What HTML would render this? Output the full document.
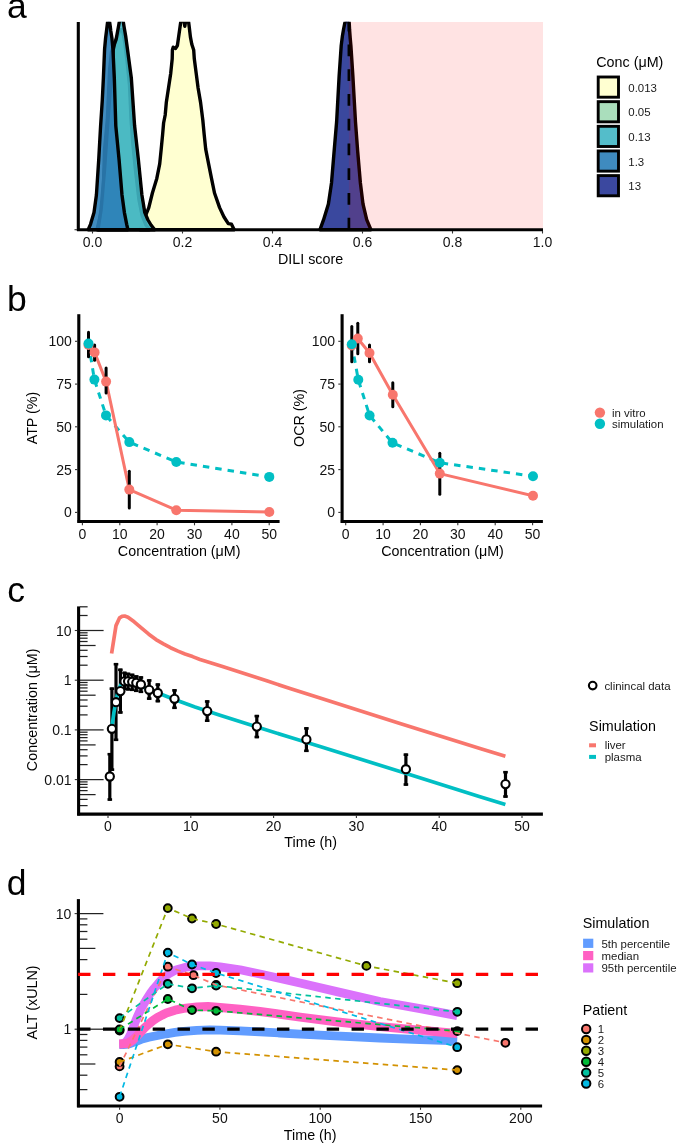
<!DOCTYPE html>
<html><head><meta charset="utf-8"><style>
html,body{margin:0;padding:0;background:#fff;}
svg{display:block;font-family:"Liberation Sans", sans-serif;}
</style></head><body>
<svg width="685" height="1144" viewBox="0 0 685 1144">
<rect width="685" height="1144" fill="#fff"/>
<g opacity="0.999">
<text x="7.0" y="18.3" font-size="35.5" fill="#000" text-anchor="start" >a</text>
<text x="7.0" y="311.4" font-size="35.5" fill="#000" text-anchor="start" >b</text>
<text x="7.3" y="602.3" font-size="35.5" fill="#000" text-anchor="start" >c</text>
<text x="6.8" y="894.8" font-size="35.5" fill="#000" text-anchor="start" >d</text>
<defs><clipPath id="cpa"><rect x="70" y="21.8" width="480" height="212"/></clipPath></defs>
<g clip-path="url(#cpa)">
<polygon points="140.0,229.7 145.8,215.0 148.8,207.6 152.4,193.0 156.8,178.4 159.7,163.8 161.2,149.2 162.6,134.6 163.6,123.0 165.2,115.0 166.3,102.6 168.5,88.0 170.7,73.4 172.2,58.8 172.4,50.0 173.2,47.2 175.6,48.4 177.4,45.5 178.6,37.0 179.6,30.0 180.6,23.0 181.5,17.0 182.4,13.0 183.3,17.0 184.1,22.0 184.8,26.3 185.5,22.0 186.3,16.0 187.1,13.0 187.9,17.0 188.6,22.0 189.3,27.5 190.4,36.9 191.8,44.2 193.7,50.0 194.3,58.8 196.2,73.4 198.1,88.0 200.6,102.6 202.8,120.0 204.2,134.6 205.7,149.2 208.6,163.8 211.5,178.4 214.5,193.0 219.6,207.6 224.0,217.0 228.3,223.6 231.5,224.2 234.2,229.7" fill="#FFFFCC" fill-opacity="0.9" stroke="#000" stroke-width="3.4" stroke-linejoin="round"/>
<polygon points="97.0,229.7 100.5,215.0 103.0,200.0 104.5,150.0 107.3,120.0 109.6,70.0 111.5,52.0 114.5,44.0 117.5,36.0 119.5,31.0 121.0,29.5 122.5,31.0 123.5,35.0 125.0,44.0 127.0,60.0 129.5,85.0 131.1,120.0 133.0,145.0 135.5,170.0 139.0,200.0 142.0,215.0 146.0,225.0 149.5,229.7" fill="#A1DAB4" fill-opacity="0.9" stroke="#000" stroke-width="3.4" stroke-linejoin="round"/>
<polygon points="98.0,229.7 101.0,210.0 104.5,170.0 108.0,120.0 111.0,80.0 113.2,50.0 114.5,44.0 116.1,39.4 117.3,33.0 118.4,27.0 119.3,22.0 120.3,18.0 121.3,15.5 122.4,18.0 123.3,22.0 124.1,27.0 124.8,31.0 125.8,36.9 127.4,48.8 131.3,77.7 134.6,125.8 138.4,160.0 141.9,195.0 144.8,212.6 148.0,220.0 151.0,225.0 154.8,229.7" fill="#41B6C4" fill-opacity="0.9" stroke="#000" stroke-width="3.4" stroke-linejoin="round"/>
<polygon points="88.2,229.7 90.5,224.3 94.0,212.6 96.4,195.0 98.7,160.0 100.6,125.8 102.3,100.0 103.4,77.7 104.6,48.8 105.6,38.0 106.5,31.0 107.1,26.0 107.6,22.0 108.2,18.0 108.6,15.5 109.2,18.0 109.6,22.0 110.2,26.0 110.8,31.0 111.9,38.0 112.9,48.8 114.3,77.7 115.8,125.8 119.1,160.0 122.0,195.0 124.4,212.6 126.7,224.3 127.9,229.7" fill="#2C7FB8" fill-opacity="0.9" stroke="#000" stroke-width="3.4" stroke-linejoin="round"/>
<polygon points="320.0,229.7 323.6,219.7 328.4,204.0 331.5,183.0 334.1,151.5 336.6,122.0 339.1,76.3 341.2,45.6 342.4,36.0 343.6,29.0 344.6,24.0 345.4,21.0 346.6,17.0 347.6,17.0 348.8,20.0 349.3,24.0 349.6,30.0 350.2,38.0 350.9,45.6 352.9,76.3 355.5,122.0 357.7,151.5 360.4,183.0 363.0,204.0 366.7,219.7 370.9,229.7" fill="#253494" fill-opacity="0.9" stroke="#000" stroke-width="3.4" stroke-linejoin="round"/>
</g>
<rect x="348.9" y="22.0" width="194.1" height="207.7" fill="#FF0000" fill-opacity="0.115"/>
<line x1="348.9" y1="229.4" x2="348.9" y2="22.0" stroke="#000" stroke-width="2.7" stroke-dasharray="11.7 13.05"/>
<line x1="78.3" y1="22.0" x2="78.3" y2="231.0" stroke="#000" stroke-width="3.1" />
<line x1="77.0" y1="229.7" x2="543.0" y2="229.7" stroke="#000" stroke-width="3.1" />
<line x1="92.5" y1="231.0" x2="92.5" y2="233.5" stroke="#333" stroke-width="1.1" />
<text x="92.5" y="246.6" font-size="14.0" fill="#111" text-anchor="middle" >0.0</text>
<line x1="182.5" y1="231.0" x2="182.5" y2="233.5" stroke="#333" stroke-width="1.1" />
<text x="182.5" y="246.6" font-size="14.0" fill="#111" text-anchor="middle" >0.2</text>
<line x1="272.5" y1="231.0" x2="272.5" y2="233.5" stroke="#333" stroke-width="1.1" />
<text x="272.5" y="246.6" font-size="14.0" fill="#111" text-anchor="middle" >0.4</text>
<line x1="362.5" y1="231.0" x2="362.5" y2="233.5" stroke="#333" stroke-width="1.1" />
<text x="362.5" y="246.6" font-size="14.0" fill="#111" text-anchor="middle" >0.6</text>
<line x1="452.5" y1="231.0" x2="452.5" y2="233.5" stroke="#333" stroke-width="1.1" />
<text x="452.5" y="246.6" font-size="14.0" fill="#111" text-anchor="middle" >0.8</text>
<line x1="542.5" y1="231.0" x2="542.5" y2="233.5" stroke="#333" stroke-width="1.1" />
<text x="542.5" y="246.6" font-size="14.0" fill="#111" text-anchor="middle" >1.0</text>
<line x1="77.0" y1="229.7" x2="74.5" y2="229.7" stroke="#333" stroke-width="1.1" />
<text x="310.6" y="264.2" font-size="14.3" fill="#000" text-anchor="middle" >DILI score</text>
<text x="596.3" y="67.3" font-size="14.3" fill="#000" text-anchor="start" >Conc (μM)</text>
<rect x="598.2" y="77.00" width="20.3" height="20.2" fill="#FFFFD1" stroke="#000" stroke-width="2.9"/>
<text x="628.3" y="91.5" font-size="11.44" fill="#1a1a1a" text-anchor="start" >0.013</text>
<rect x="598.2" y="101.65" width="20.3" height="20.2" fill="#AADEBC" stroke="#000" stroke-width="2.9"/>
<text x="628.3" y="116.2" font-size="11.44" fill="#1a1a1a" text-anchor="start" >0.05</text>
<rect x="598.2" y="126.30" width="20.3" height="20.2" fill="#54BDCA" stroke="#000" stroke-width="2.9"/>
<text x="628.3" y="140.8" font-size="11.44" fill="#1a1a1a" text-anchor="start" >0.13</text>
<rect x="598.2" y="150.95" width="20.3" height="20.2" fill="#3F8BBF" stroke="#000" stroke-width="2.9"/>
<text x="628.3" y="165.5" font-size="11.44" fill="#1a1a1a" text-anchor="start" >1.3</text>
<rect x="598.2" y="175.60" width="20.3" height="20.2" fill="#3B489F" stroke="#000" stroke-width="2.9"/>
<text x="628.3" y="190.1" font-size="11.44" fill="#1a1a1a" text-anchor="start" >13</text>
<line x1="78.8" y1="314.2" x2="78.8" y2="522.9" stroke="#000" stroke-width="3.1" />
<line x1="77.5" y1="521.5" x2="279.6" y2="521.5" stroke="#000" stroke-width="3.1" />
<line x1="77.5" y1="512.4" x2="75.0" y2="512.4" stroke="#333" stroke-width="1.1" />
<text x="71.8" y="517.4" font-size="14.0" fill="#111" text-anchor="end" >0</text>
<line x1="77.5" y1="469.6" x2="75.0" y2="469.6" stroke="#333" stroke-width="1.1" />
<text x="71.8" y="474.6" font-size="14.0" fill="#111" text-anchor="end" >25</text>
<line x1="77.5" y1="426.8" x2="75.0" y2="426.8" stroke="#333" stroke-width="1.1" />
<text x="71.8" y="431.8" font-size="14.0" fill="#111" text-anchor="end" >50</text>
<line x1="77.5" y1="384.1" x2="75.0" y2="384.1" stroke="#333" stroke-width="1.1" />
<text x="71.8" y="389.1" font-size="14.0" fill="#111" text-anchor="end" >75</text>
<line x1="77.5" y1="341.3" x2="75.0" y2="341.3" stroke="#333" stroke-width="1.1" />
<text x="71.8" y="346.3" font-size="14.0" fill="#111" text-anchor="end" >100</text>
<line x1="82.4" y1="522.8" x2="82.4" y2="525.3" stroke="#333" stroke-width="1.1" />
<text x="82.4" y="538.5" font-size="14.0" fill="#111" text-anchor="middle" >0</text>
<line x1="119.8" y1="522.8" x2="119.8" y2="525.3" stroke="#333" stroke-width="1.1" />
<text x="119.8" y="538.5" font-size="14.0" fill="#111" text-anchor="middle" >10</text>
<line x1="157.1" y1="522.8" x2="157.1" y2="525.3" stroke="#333" stroke-width="1.1" />
<text x="157.1" y="538.5" font-size="14.0" fill="#111" text-anchor="middle" >20</text>
<line x1="194.5" y1="522.8" x2="194.5" y2="525.3" stroke="#333" stroke-width="1.1" />
<text x="194.5" y="538.5" font-size="14.0" fill="#111" text-anchor="middle" >30</text>
<line x1="231.9" y1="522.8" x2="231.9" y2="525.3" stroke="#333" stroke-width="1.1" />
<text x="231.9" y="538.5" font-size="14.0" fill="#111" text-anchor="middle" >40</text>
<line x1="269.2" y1="522.8" x2="269.2" y2="525.3" stroke="#333" stroke-width="1.1" />
<text x="269.2" y="538.5" font-size="14.0" fill="#111" text-anchor="middle" >50</text>
<text x="179.2" y="556.2" font-size="14.3" fill="#000" text-anchor="middle" >Concentration (μM)</text>
<text x="0.0" y="0.0" font-size="14.3" fill="#000" text-anchor="middle" transform="translate(36.7,418) rotate(-90)">ATP (%)</text>
<line x1="342.1" y1="314.2" x2="342.1" y2="522.9" stroke="#000" stroke-width="3.1" />
<line x1="340.8" y1="521.5" x2="542.9" y2="521.5" stroke="#000" stroke-width="3.1" />
<line x1="340.8" y1="512.4" x2="338.3" y2="512.4" stroke="#333" stroke-width="1.1" />
<text x="335.1" y="517.4" font-size="14.0" fill="#111" text-anchor="end" >0</text>
<line x1="340.8" y1="469.6" x2="338.3" y2="469.6" stroke="#333" stroke-width="1.1" />
<text x="335.1" y="474.6" font-size="14.0" fill="#111" text-anchor="end" >25</text>
<line x1="340.8" y1="426.8" x2="338.3" y2="426.8" stroke="#333" stroke-width="1.1" />
<text x="335.1" y="431.8" font-size="14.0" fill="#111" text-anchor="end" >50</text>
<line x1="340.8" y1="384.1" x2="338.3" y2="384.1" stroke="#333" stroke-width="1.1" />
<text x="335.1" y="389.1" font-size="14.0" fill="#111" text-anchor="end" >75</text>
<line x1="340.8" y1="341.3" x2="338.3" y2="341.3" stroke="#333" stroke-width="1.1" />
<text x="335.1" y="346.3" font-size="14.0" fill="#111" text-anchor="end" >100</text>
<line x1="345.7" y1="522.8" x2="345.7" y2="525.3" stroke="#333" stroke-width="1.1" />
<text x="345.7" y="538.5" font-size="14.0" fill="#111" text-anchor="middle" >0</text>
<line x1="383.1" y1="522.8" x2="383.1" y2="525.3" stroke="#333" stroke-width="1.1" />
<text x="383.1" y="538.5" font-size="14.0" fill="#111" text-anchor="middle" >10</text>
<line x1="420.4" y1="522.8" x2="420.4" y2="525.3" stroke="#333" stroke-width="1.1" />
<text x="420.4" y="538.5" font-size="14.0" fill="#111" text-anchor="middle" >20</text>
<line x1="457.8" y1="522.8" x2="457.8" y2="525.3" stroke="#333" stroke-width="1.1" />
<text x="457.8" y="538.5" font-size="14.0" fill="#111" text-anchor="middle" >30</text>
<line x1="495.2" y1="522.8" x2="495.2" y2="525.3" stroke="#333" stroke-width="1.1" />
<text x="495.2" y="538.5" font-size="14.0" fill="#111" text-anchor="middle" >40</text>
<line x1="532.6" y1="522.8" x2="532.6" y2="525.3" stroke="#333" stroke-width="1.1" />
<text x="532.6" y="538.5" font-size="14.0" fill="#111" text-anchor="middle" >50</text>
<text x="442.5" y="556.2" font-size="14.3" fill="#000" text-anchor="middle" >Concentration (μM)</text>
<text x="0.0" y="0.0" font-size="14.3" fill="#000" text-anchor="middle" transform="translate(303.8,418) rotate(-90)">OCR (%)</text>
<polyline points="88.5,343.6 94.4,379.6 106.0,415.4 129.3,442.1 176.3,462.0 269.3,476.9" fill="none" stroke="#00BFC4" stroke-width="3" stroke-dasharray="6.5 6"/>
<polyline points="88.5,345.0 94.6,352.4 106.1,381.6 129.3,489.6 176.3,510.2 269.3,512.0" fill="none" stroke="#F8766D" stroke-width="3" stroke-linejoin="round"/>
<line x1="88.5" y1="332.3" x2="88.5" y2="356.8" stroke="#000" stroke-width="3" stroke-linecap="round"/>
<line x1="94.6" y1="345.0" x2="94.6" y2="360.3" stroke="#000" stroke-width="3" stroke-linecap="round"/>
<line x1="106.1" y1="368.0" x2="106.1" y2="393.0" stroke="#000" stroke-width="3" stroke-linecap="round"/>
<line x1="129.3" y1="471.2" x2="129.3" y2="508.0" stroke="#000" stroke-width="3" stroke-linecap="round"/>
<circle cx="88.5" cy="345" r="5" fill="#F8766D"/>
<circle cx="94.6" cy="352.4" r="5" fill="#F8766D"/>
<circle cx="106.1" cy="381.6" r="5" fill="#F8766D"/>
<circle cx="129.3" cy="489.6" r="5" fill="#F8766D"/>
<circle cx="176.3" cy="510.2" r="5" fill="#F8766D"/>
<circle cx="269.3" cy="512" r="5" fill="#F8766D"/>
<circle cx="88.5" cy="343.6" r="5" fill="#00BFC4"/>
<circle cx="94.4" cy="379.6" r="5" fill="#00BFC4"/>
<circle cx="106.0" cy="415.4" r="5" fill="#00BFC4"/>
<circle cx="129.3" cy="442.1" r="5" fill="#00BFC4"/>
<circle cx="176.3" cy="462" r="5" fill="#00BFC4"/>
<circle cx="269.3" cy="476.9" r="5" fill="#00BFC4"/>
<polyline points="351.8,344.2 358.3,379.8 369.6,415.5 392.5,442.8 439.8,462.7 533.0,476.2" fill="none" stroke="#00BFC4" stroke-width="3" stroke-dasharray="6.5 6"/>
<polyline points="351.8,345.5 357.8,338.5 369.5,353.0 392.8,394.7 439.8,473.6 533.0,495.7" fill="none" stroke="#F8766D" stroke-width="3" stroke-linejoin="round"/>
<line x1="351.8" y1="326.5" x2="351.8" y2="361.8" stroke="#000" stroke-width="3" stroke-linecap="round"/>
<line x1="357.8" y1="323.3" x2="357.8" y2="353.8" stroke="#000" stroke-width="3" stroke-linecap="round"/>
<line x1="369.5" y1="345.0" x2="369.5" y2="361.8" stroke="#000" stroke-width="3" stroke-linecap="round"/>
<line x1="392.8" y1="382.7" x2="392.8" y2="406.8" stroke="#000" stroke-width="3" stroke-linecap="round"/>
<line x1="439.8" y1="453.3" x2="439.8" y2="494.3" stroke="#000" stroke-width="3" stroke-linecap="round"/>
<circle cx="351.8" cy="345.5" r="5" fill="#F8766D"/>
<circle cx="357.8" cy="338.5" r="5" fill="#F8766D"/>
<circle cx="369.5" cy="353" r="5" fill="#F8766D"/>
<circle cx="392.8" cy="394.7" r="5" fill="#F8766D"/>
<circle cx="439.8" cy="473.6" r="5" fill="#F8766D"/>
<circle cx="533" cy="495.7" r="5" fill="#F8766D"/>
<circle cx="351.8" cy="344.2" r="5" fill="#00BFC4"/>
<circle cx="358.3" cy="379.8" r="5" fill="#00BFC4"/>
<circle cx="369.6" cy="415.5" r="5" fill="#00BFC4"/>
<circle cx="392.5" cy="442.8" r="5" fill="#00BFC4"/>
<circle cx="439.8" cy="462.7" r="5" fill="#00BFC4"/>
<circle cx="533" cy="476.2" r="5" fill="#00BFC4"/>
<circle cx="599.9" cy="412.6" r="5.2" fill="#F8766D"/>
<circle cx="599.9" cy="423.8" r="5.2" fill="#00BFC4"/>
<text x="612.0" y="416.6" font-size="11.44" fill="#1a1a1a" text-anchor="start" >in vitro</text>
<text x="612.0" y="427.8" font-size="11.44" fill="#1a1a1a" text-anchor="start" >simulation</text>
<line x1="79.9" y1="805.6" x2="87.6" y2="805.6" stroke="#222" stroke-width="1.25" />
<line x1="79.9" y1="799.4" x2="87.6" y2="799.4" stroke="#222" stroke-width="1.25" />
<line x1="79.9" y1="794.6" x2="95.6" y2="794.6" stroke="#222" stroke-width="1.25" />
<line x1="79.9" y1="790.6" x2="87.6" y2="790.6" stroke="#222" stroke-width="1.25" />
<line x1="79.9" y1="787.3" x2="87.6" y2="787.3" stroke="#222" stroke-width="1.25" />
<line x1="79.9" y1="784.4" x2="87.6" y2="784.4" stroke="#222" stroke-width="1.25" />
<line x1="79.9" y1="781.9" x2="87.6" y2="781.9" stroke="#222" stroke-width="1.25" />
<line x1="79.9" y1="779.6" x2="103.6" y2="779.6" stroke="#222" stroke-width="1.25" />
<line x1="79.9" y1="764.6" x2="87.6" y2="764.6" stroke="#222" stroke-width="1.25" />
<line x1="79.9" y1="755.9" x2="87.6" y2="755.9" stroke="#222" stroke-width="1.25" />
<line x1="79.9" y1="749.7" x2="87.6" y2="749.7" stroke="#222" stroke-width="1.25" />
<line x1="79.9" y1="744.9" x2="95.6" y2="744.9" stroke="#222" stroke-width="1.25" />
<line x1="79.9" y1="740.9" x2="87.6" y2="740.9" stroke="#222" stroke-width="1.25" />
<line x1="79.9" y1="737.6" x2="87.6" y2="737.6" stroke="#222" stroke-width="1.25" />
<line x1="79.9" y1="734.7" x2="87.6" y2="734.7" stroke="#222" stroke-width="1.25" />
<line x1="79.9" y1="732.2" x2="87.6" y2="732.2" stroke="#222" stroke-width="1.25" />
<line x1="79.9" y1="729.9" x2="103.6" y2="729.9" stroke="#222" stroke-width="1.25" />
<line x1="79.9" y1="714.9" x2="87.6" y2="714.9" stroke="#222" stroke-width="1.25" />
<line x1="79.9" y1="706.2" x2="87.6" y2="706.2" stroke="#222" stroke-width="1.25" />
<line x1="79.9" y1="700.0" x2="87.6" y2="700.0" stroke="#222" stroke-width="1.25" />
<line x1="79.9" y1="695.2" x2="95.6" y2="695.2" stroke="#222" stroke-width="1.25" />
<line x1="79.9" y1="691.2" x2="87.6" y2="691.2" stroke="#222" stroke-width="1.25" />
<line x1="79.9" y1="687.9" x2="87.6" y2="687.9" stroke="#222" stroke-width="1.25" />
<line x1="79.9" y1="685.0" x2="87.6" y2="685.0" stroke="#222" stroke-width="1.25" />
<line x1="79.9" y1="682.5" x2="87.6" y2="682.5" stroke="#222" stroke-width="1.25" />
<line x1="79.9" y1="680.2" x2="103.6" y2="680.2" stroke="#222" stroke-width="1.25" />
<line x1="79.9" y1="665.2" x2="87.6" y2="665.2" stroke="#222" stroke-width="1.25" />
<line x1="79.9" y1="656.5" x2="87.6" y2="656.5" stroke="#222" stroke-width="1.25" />
<line x1="79.9" y1="650.3" x2="87.6" y2="650.3" stroke="#222" stroke-width="1.25" />
<line x1="79.9" y1="645.5" x2="95.6" y2="645.5" stroke="#222" stroke-width="1.25" />
<line x1="79.9" y1="641.5" x2="87.6" y2="641.5" stroke="#222" stroke-width="1.25" />
<line x1="79.9" y1="638.2" x2="87.6" y2="638.2" stroke="#222" stroke-width="1.25" />
<line x1="79.9" y1="635.3" x2="87.6" y2="635.3" stroke="#222" stroke-width="1.25" />
<line x1="79.9" y1="632.8" x2="87.6" y2="632.8" stroke="#222" stroke-width="1.25" />
<line x1="79.9" y1="630.5" x2="103.6" y2="630.5" stroke="#222" stroke-width="1.25" />
<line x1="79.9" y1="615.5" x2="87.6" y2="615.5" stroke="#222" stroke-width="1.25" />
<line x1="79.9" y1="606.8" x2="87.6" y2="606.8" stroke="#222" stroke-width="1.25" />
<line x1="78.6" y1="606.4" x2="78.6" y2="815.5" stroke="#000" stroke-width="3.1" />
<line x1="77.2" y1="814.1" x2="542.9" y2="814.1" stroke="#000" stroke-width="3.1" />
<line x1="77.3" y1="630.5" x2="74.8" y2="630.5" stroke="#333" stroke-width="1.1" />
<text x="71.6" y="635.5" font-size="14.0" fill="#111" text-anchor="end" >10</text>
<line x1="77.3" y1="680.2" x2="74.8" y2="680.2" stroke="#333" stroke-width="1.1" />
<text x="71.6" y="685.2" font-size="14.0" fill="#111" text-anchor="end" >1</text>
<line x1="77.3" y1="729.9" x2="74.8" y2="729.9" stroke="#333" stroke-width="1.1" />
<text x="71.6" y="734.9" font-size="14.0" fill="#111" text-anchor="end" >0.1</text>
<line x1="77.3" y1="779.6" x2="74.8" y2="779.6" stroke="#333" stroke-width="1.1" />
<text x="71.6" y="784.6" font-size="14.0" fill="#111" text-anchor="end" >0.01</text>
<line x1="108.0" y1="815.4" x2="108.0" y2="817.9" stroke="#333" stroke-width="1.1" />
<text x="108.0" y="830.6" font-size="14.0" fill="#111" text-anchor="middle" >0</text>
<line x1="190.8" y1="815.4" x2="190.8" y2="817.9" stroke="#333" stroke-width="1.1" />
<text x="190.8" y="830.6" font-size="14.0" fill="#111" text-anchor="middle" >10</text>
<line x1="273.6" y1="815.4" x2="273.6" y2="817.9" stroke="#333" stroke-width="1.1" />
<text x="273.6" y="830.6" font-size="14.0" fill="#111" text-anchor="middle" >20</text>
<line x1="356.4" y1="815.4" x2="356.4" y2="817.9" stroke="#333" stroke-width="1.1" />
<text x="356.4" y="830.6" font-size="14.0" fill="#111" text-anchor="middle" >30</text>
<line x1="439.2" y1="815.4" x2="439.2" y2="817.9" stroke="#333" stroke-width="1.1" />
<text x="439.2" y="830.6" font-size="14.0" fill="#111" text-anchor="middle" >40</text>
<line x1="522.0" y1="815.4" x2="522.0" y2="817.9" stroke="#333" stroke-width="1.1" />
<text x="522.0" y="830.6" font-size="14.0" fill="#111" text-anchor="middle" >50</text>
<text x="310.7" y="847.4" font-size="14.3" fill="#000" text-anchor="middle" >Time (h)</text>
<text x="0.0" y="0.0" font-size="14.3" fill="#000" text-anchor="middle" transform="translate(37.1,709.8) rotate(-90)">Concentration (μM)</text>
<line x1="109.8" y1="753.0" x2="109.8" y2="800.7" stroke="#000" stroke-width="3.2" />
<line x1="107.5" y1="754.2" x2="112.1" y2="754.2" stroke="#000" stroke-width="2.6" />
<line x1="107.5" y1="799.5" x2="112.1" y2="799.5" stroke="#000" stroke-width="2.6" />
<line x1="111.9" y1="687.5" x2="111.9" y2="770.8" stroke="#000" stroke-width="3.2" />
<line x1="109.6" y1="688.7" x2="114.2" y2="688.7" stroke="#000" stroke-width="2.6" />
<line x1="109.6" y1="769.6" x2="114.2" y2="769.6" stroke="#000" stroke-width="2.6" />
<line x1="116.0" y1="663.0" x2="116.0" y2="741.0" stroke="#000" stroke-width="3.2" />
<line x1="113.7" y1="664.2" x2="118.3" y2="664.2" stroke="#000" stroke-width="2.6" />
<line x1="113.7" y1="739.8" x2="118.3" y2="739.8" stroke="#000" stroke-width="2.6" />
<line x1="120.4" y1="668.6" x2="120.4" y2="713.6" stroke="#000" stroke-width="3.2" />
<line x1="118.1" y1="669.8" x2="122.7" y2="669.8" stroke="#000" stroke-width="2.6" />
<line x1="118.1" y1="712.4" x2="122.7" y2="712.4" stroke="#000" stroke-width="2.6" />
<line x1="124.5" y1="671.7" x2="124.5" y2="690.0" stroke="#000" stroke-width="3.2" />
<line x1="122.2" y1="672.9" x2="126.8" y2="672.9" stroke="#000" stroke-width="2.6" />
<line x1="122.2" y1="688.8" x2="126.8" y2="688.8" stroke="#000" stroke-width="2.6" />
<line x1="128.1" y1="672.7" x2="128.1" y2="690.5" stroke="#000" stroke-width="3.2" />
<line x1="125.8" y1="673.9" x2="130.4" y2="673.9" stroke="#000" stroke-width="2.6" />
<line x1="125.8" y1="689.3" x2="130.4" y2="689.3" stroke="#000" stroke-width="2.6" />
<line x1="132.2" y1="673.7" x2="132.2" y2="691.0" stroke="#000" stroke-width="3.2" />
<line x1="129.9" y1="674.9" x2="134.5" y2="674.9" stroke="#000" stroke-width="2.6" />
<line x1="129.9" y1="689.8" x2="134.5" y2="689.8" stroke="#000" stroke-width="2.6" />
<line x1="136.3" y1="675.3" x2="136.3" y2="692.0" stroke="#000" stroke-width="3.2" />
<line x1="134.0" y1="676.5" x2="138.6" y2="676.5" stroke="#000" stroke-width="2.6" />
<line x1="134.0" y1="690.8" x2="138.6" y2="690.8" stroke="#000" stroke-width="2.6" />
<line x1="140.9" y1="676.3" x2="140.9" y2="693.0" stroke="#000" stroke-width="3.2" />
<line x1="138.6" y1="677.5" x2="143.2" y2="677.5" stroke="#000" stroke-width="2.6" />
<line x1="138.6" y1="691.8" x2="143.2" y2="691.8" stroke="#000" stroke-width="2.6" />
<line x1="149.2" y1="679.3" x2="149.2" y2="699.8" stroke="#000" stroke-width="3.2" />
<line x1="146.9" y1="680.5" x2="151.5" y2="680.5" stroke="#000" stroke-width="2.6" />
<line x1="146.9" y1="698.6" x2="151.5" y2="698.6" stroke="#000" stroke-width="2.6" />
<line x1="157.8" y1="683.4" x2="157.8" y2="702.3" stroke="#000" stroke-width="3.2" />
<line x1="155.5" y1="684.6" x2="160.1" y2="684.6" stroke="#000" stroke-width="2.6" />
<line x1="155.5" y1="701.1" x2="160.1" y2="701.1" stroke="#000" stroke-width="2.6" />
<line x1="174.5" y1="689.2" x2="174.5" y2="709.0" stroke="#000" stroke-width="3.2" />
<line x1="172.2" y1="690.4" x2="176.8" y2="690.4" stroke="#000" stroke-width="2.6" />
<line x1="172.2" y1="707.8" x2="176.8" y2="707.8" stroke="#000" stroke-width="2.6" />
<line x1="207.2" y1="700.3" x2="207.2" y2="721.9" stroke="#000" stroke-width="3.2" />
<line x1="204.9" y1="701.5" x2="209.5" y2="701.5" stroke="#000" stroke-width="2.6" />
<line x1="204.9" y1="720.7" x2="209.5" y2="720.7" stroke="#000" stroke-width="2.6" />
<line x1="256.8" y1="714.9" x2="256.8" y2="738.2" stroke="#000" stroke-width="3.2" />
<line x1="254.5" y1="716.1" x2="259.1" y2="716.1" stroke="#000" stroke-width="2.6" />
<line x1="254.5" y1="737.0" x2="259.1" y2="737.0" stroke="#000" stroke-width="2.6" />
<line x1="306.4" y1="727.2" x2="306.4" y2="752.0" stroke="#000" stroke-width="3.2" />
<line x1="304.1" y1="728.4" x2="308.7" y2="728.4" stroke="#000" stroke-width="2.6" />
<line x1="304.1" y1="750.8" x2="308.7" y2="750.8" stroke="#000" stroke-width="2.6" />
<line x1="405.9" y1="753.5" x2="405.9" y2="785.7" stroke="#000" stroke-width="3.2" />
<line x1="403.6" y1="754.7" x2="408.2" y2="754.7" stroke="#000" stroke-width="2.6" />
<line x1="403.6" y1="784.5" x2="408.2" y2="784.5" stroke="#000" stroke-width="2.6" />
<line x1="505.5" y1="771.0" x2="505.5" y2="797.7" stroke="#000" stroke-width="3.2" />
<line x1="503.2" y1="772.2" x2="507.8" y2="772.2" stroke="#000" stroke-width="2.6" />
<line x1="503.2" y1="796.5" x2="507.8" y2="796.5" stroke="#000" stroke-width="2.6" />
<polyline points="111.6,653.5 116.0,625.6 119.6,617.8 122.0,616.4 124.7,616.0 128.0,617.2 134.2,621.8 141.0,627.6 148.8,634.2 156.0,639.6 163.4,643.9 170.5,647.7 178.0,651.1 185.0,654.0 192.6,656.6 200.0,659.5 222.5,666.6 245.0,673.8 267.5,681.0 290.0,688.6 320.0,698.1 400.0,723.4 480.0,748.6 505.4,756.3" fill="none" stroke="#F8766D" stroke-width="3.7" stroke-linejoin="round"/>
<polyline points="111.9,726.5 112.9,720.0 114.0,712.0 115.5,704.0 117.0,696.0 118.8,689.0 121.0,684.6 124.0,682.6 127.0,682.2 131.0,682.7 136.0,684.3 141.0,686.2 150.0,689.6 160.0,693.8 170.0,697.8 180.0,701.6 195.0,707.0 220.0,715.2 250.0,724.8 290.0,737.3 320.0,746.5 400.0,771.6 480.0,796.8 505.4,804.6" fill="none" stroke="#00BFC4" stroke-width="3.7" stroke-linejoin="round"/>
<circle cx="109.8" cy="776.5" r="4.1" fill="#fff" stroke="#000" stroke-width="2.1"/>
<circle cx="111.9" cy="728.8" r="4.1" fill="#fff" stroke="#000" stroke-width="2.1"/>
<circle cx="116.0" cy="702.2" r="4.1" fill="#fff" stroke="#000" stroke-width="2.1"/>
<circle cx="120.4" cy="691.1" r="4.1" fill="#fff" stroke="#000" stroke-width="2.1"/>
<circle cx="124.5" cy="681.4" r="4.1" fill="#fff" stroke="#000" stroke-width="2.1"/>
<circle cx="128.1" cy="681.3" r="4.1" fill="#fff" stroke="#000" stroke-width="2.1"/>
<circle cx="132.2" cy="681.8" r="4.1" fill="#fff" stroke="#000" stroke-width="2.1"/>
<circle cx="136.3" cy="682.8" r="4.1" fill="#fff" stroke="#000" stroke-width="2.1"/>
<circle cx="140.9" cy="684.5" r="4.1" fill="#fff" stroke="#000" stroke-width="2.1"/>
<circle cx="149.2" cy="689.8" r="4.1" fill="#fff" stroke="#000" stroke-width="2.1"/>
<circle cx="157.8" cy="693.0" r="4.1" fill="#fff" stroke="#000" stroke-width="2.1"/>
<circle cx="174.5" cy="698.8" r="4.1" fill="#fff" stroke="#000" stroke-width="2.1"/>
<circle cx="207.2" cy="711.1" r="4.1" fill="#fff" stroke="#000" stroke-width="2.1"/>
<circle cx="256.8" cy="726.6" r="4.1" fill="#fff" stroke="#000" stroke-width="2.1"/>
<circle cx="306.4" cy="739.4" r="4.1" fill="#fff" stroke="#000" stroke-width="2.1"/>
<circle cx="405.9" cy="769.2" r="4.1" fill="#fff" stroke="#000" stroke-width="2.1"/>
<circle cx="505.5" cy="784.1" r="4.1" fill="#fff" stroke="#000" stroke-width="2.1"/>
<circle cx="592.7" cy="685.6" r="3.8" fill="#fff" stroke="#000" stroke-width="2.1"/>
<text x="604.4" y="689.6" font-size="11.44" fill="#1a1a1a" text-anchor="start" >clinincal data</text>
<text x="589.1" y="730.8" font-size="14.3" fill="#000" text-anchor="start" >Simulation</text>
<rect x="589.1" y="743.3" width="6.9" height="4" fill="#F8766D"/>
<rect x="589.1" y="754.9" width="6.9" height="4" fill="#00BFC4"/>
<text x="604.7" y="749.3" font-size="11.44" fill="#1a1a1a" text-anchor="start" >liver</text>
<text x="604.7" y="760.9" font-size="11.44" fill="#1a1a1a" text-anchor="start" >plasma</text>
<line x1="79.7" y1="1089.6" x2="87.4" y2="1089.6" stroke="#222" stroke-width="1.25" />
<line x1="79.7" y1="1075.2" x2="87.4" y2="1075.2" stroke="#222" stroke-width="1.25" />
<line x1="79.7" y1="1064.0" x2="95.4" y2="1064.0" stroke="#222" stroke-width="1.25" />
<line x1="79.7" y1="1054.8" x2="87.4" y2="1054.8" stroke="#222" stroke-width="1.25" />
<line x1="79.7" y1="1047.1" x2="87.4" y2="1047.1" stroke="#222" stroke-width="1.25" />
<line x1="79.7" y1="1040.4" x2="87.4" y2="1040.4" stroke="#222" stroke-width="1.25" />
<line x1="79.7" y1="1034.5" x2="87.4" y2="1034.5" stroke="#222" stroke-width="1.25" />
<line x1="79.7" y1="1029.2" x2="103.4" y2="1029.2" stroke="#222" stroke-width="1.25" />
<line x1="79.7" y1="994.4" x2="87.4" y2="994.4" stroke="#222" stroke-width="1.25" />
<line x1="79.7" y1="974.0" x2="87.4" y2="974.0" stroke="#222" stroke-width="1.25" />
<line x1="79.7" y1="959.6" x2="87.4" y2="959.6" stroke="#222" stroke-width="1.25" />
<line x1="79.7" y1="948.4" x2="95.4" y2="948.4" stroke="#222" stroke-width="1.25" />
<line x1="79.7" y1="939.2" x2="87.4" y2="939.2" stroke="#222" stroke-width="1.25" />
<line x1="79.7" y1="931.5" x2="87.4" y2="931.5" stroke="#222" stroke-width="1.25" />
<line x1="79.7" y1="924.8" x2="87.4" y2="924.8" stroke="#222" stroke-width="1.25" />
<line x1="79.7" y1="918.9" x2="87.4" y2="918.9" stroke="#222" stroke-width="1.25" />
<line x1="79.7" y1="913.6" x2="103.4" y2="913.6" stroke="#222" stroke-width="1.25" />
<polyline points="119.3,1044.6 123.0,1044.5 126.0,1044.3 130.0,1043.6 134.0,1042.2 138.0,1040.6 141.2,1039.3 148.8,1037.3 157.5,1035.5 166.3,1033.8 175.0,1032.4 183.8,1031.3 196.9,1030.3 210.0,1029.9 220.0,1030.1 240.0,1030.9 260.0,1031.9 280.0,1033.0 300.0,1034.1 340.0,1036.1 380.0,1038.0 420.0,1039.6 457.2,1040.9" fill="none" stroke="#619CFF" stroke-width="8.8" stroke-linejoin="round"/>
<polyline points="119.3,1043.9 122.0,1043.8 124.5,1043.0 126.5,1041.3 128.5,1038.5 130.5,1034.5 132.5,1029.5 135.0,1022.5 137.5,1016.3 140.5,1010.0 143.5,1004.4 147.0,998.6 150.5,993.2 154.0,988.5 158.0,983.8 163.4,977.8 169.0,973.5 175.0,970.3 186.7,967.0 198.4,965.8 210.1,965.9 220.0,966.8 240.0,969.8 260.0,974.0 280.0,978.4 300.0,983.0 340.0,992.4 380.0,1001.5 420.0,1008.7 457.2,1015.6" fill="none" stroke="#DB72FB" stroke-width="8.8" stroke-linejoin="round"/>
<polyline points="119.3,1043.9 124.0,1043.8 127.0,1043.3 130.0,1042.0 133.0,1039.8 137.0,1036.0 141.0,1031.6 144.5,1027.9 148.8,1024.0 153.0,1020.5 157.5,1017.5 162.0,1015.1 166.3,1013.0 175.0,1010.2 183.8,1008.4 196.9,1007.0 208.0,1006.6 220.0,1007.4 240.0,1009.2 260.0,1011.5 280.0,1014.2 300.0,1017.1 340.0,1022.2 380.0,1026.6 420.0,1030.2 457.2,1033.4" fill="none" stroke="#FF61C3" stroke-width="9.0" stroke-linejoin="round"/>
<line x1="78.4" y1="899.1" x2="78.4" y2="1107.3" stroke="#000" stroke-width="3.1" />
<line x1="77.1" y1="1106.0" x2="542.1" y2="1106.0" stroke="#000" stroke-width="3.1" />
<line x1="77.1" y1="913.6" x2="74.6" y2="913.6" stroke="#333" stroke-width="1.1" />
<text x="71.4" y="918.6" font-size="14.0" fill="#111" text-anchor="end" >10</text>
<line x1="77.1" y1="1029.2" x2="74.6" y2="1029.2" stroke="#333" stroke-width="1.1" />
<text x="71.4" y="1034.2" font-size="14.0" fill="#111" text-anchor="end" >1</text>
<line x1="119.6" y1="1107.3" x2="119.6" y2="1109.8" stroke="#333" stroke-width="1.1" />
<text x="119.6" y="1123.2" font-size="14.0" fill="#111" text-anchor="middle" >0</text>
<line x1="219.9" y1="1107.3" x2="219.9" y2="1109.8" stroke="#333" stroke-width="1.1" />
<text x="219.9" y="1123.2" font-size="14.0" fill="#111" text-anchor="middle" >50</text>
<line x1="320.2" y1="1107.3" x2="320.2" y2="1109.8" stroke="#333" stroke-width="1.1" />
<text x="320.2" y="1123.2" font-size="14.0" fill="#111" text-anchor="middle" >100</text>
<line x1="420.5" y1="1107.3" x2="420.5" y2="1109.8" stroke="#333" stroke-width="1.1" />
<text x="420.5" y="1123.2" font-size="14.0" fill="#111" text-anchor="middle" >150</text>
<line x1="520.8" y1="1107.3" x2="520.8" y2="1109.8" stroke="#333" stroke-width="1.1" />
<text x="520.8" y="1123.2" font-size="14.0" fill="#111" text-anchor="middle" >200</text>
<text x="310.2" y="1140.2" font-size="14.3" fill="#000" text-anchor="middle" >Time (h)</text>
<text x="0.0" y="0.0" font-size="14.3" fill="#000" text-anchor="middle" transform="translate(37.0,1002.5) rotate(-90)">ALT (xULN)</text>
<circle cx="119.6" cy="1066.4" r="3.9" fill="#F8766D" stroke="#000" stroke-width="2"/>
<circle cx="167.8" cy="966.7" r="3.9" fill="#F8766D" stroke="#000" stroke-width="2"/>
<circle cx="193.5" cy="975.2" r="3.9" fill="#F8766D" stroke="#000" stroke-width="2"/>
<circle cx="216.1" cy="985" r="3.9" fill="#F8766D" stroke="#000" stroke-width="2"/>
<circle cx="505.4" cy="1042.8" r="3.9" fill="#F8766D" stroke="#000" stroke-width="2"/>
<circle cx="119.6" cy="1062" r="3.9" fill="#D39200" stroke="#000" stroke-width="2"/>
<circle cx="167.8" cy="1044.3" r="3.9" fill="#D39200" stroke="#000" stroke-width="2"/>
<circle cx="216.1" cy="1051.7" r="3.9" fill="#D39200" stroke="#000" stroke-width="2"/>
<circle cx="457.2" cy="1070.1" r="3.9" fill="#D39200" stroke="#000" stroke-width="2"/>
<circle cx="119.6" cy="1030.5" r="3.9" fill="#93AA00" stroke="#000" stroke-width="2"/>
<circle cx="167.8" cy="908.1" r="3.9" fill="#93AA00" stroke="#000" stroke-width="2"/>
<circle cx="192" cy="918.5" r="3.9" fill="#93AA00" stroke="#000" stroke-width="2"/>
<circle cx="216.1" cy="924" r="3.9" fill="#93AA00" stroke="#000" stroke-width="2"/>
<circle cx="366.4" cy="965.9" r="3.9" fill="#93AA00" stroke="#000" stroke-width="2"/>
<circle cx="457.2" cy="983.2" r="3.9" fill="#93AA00" stroke="#000" stroke-width="2"/>
<circle cx="119.6" cy="1029.4" r="3.9" fill="#00BA38" stroke="#000" stroke-width="2"/>
<circle cx="167.8" cy="999" r="3.9" fill="#00BA38" stroke="#000" stroke-width="2"/>
<circle cx="192" cy="1010.1" r="3.9" fill="#00BA38" stroke="#000" stroke-width="2"/>
<circle cx="216.1" cy="1010.8" r="3.9" fill="#00BA38" stroke="#000" stroke-width="2"/>
<circle cx="457.3" cy="1031.1" r="3.9" fill="#00BA38" stroke="#000" stroke-width="2"/>
<circle cx="119.6" cy="1018.1" r="3.9" fill="#00C19F" stroke="#000" stroke-width="2"/>
<circle cx="167.8" cy="983.8" r="3.9" fill="#00C19F" stroke="#000" stroke-width="2"/>
<circle cx="192" cy="988.3" r="3.9" fill="#00C19F" stroke="#000" stroke-width="2"/>
<circle cx="216.1" cy="985.6" r="3.9" fill="#00C19F" stroke="#000" stroke-width="2"/>
<circle cx="457.3" cy="1011.8" r="3.9" fill="#00C19F" stroke="#000" stroke-width="2"/>
<circle cx="119.6" cy="1096.8" r="3.9" fill="#00B9E3" stroke="#000" stroke-width="2"/>
<circle cx="167.8" cy="952.6" r="3.9" fill="#00B9E3" stroke="#000" stroke-width="2"/>
<circle cx="192" cy="964.5" r="3.9" fill="#00B9E3" stroke="#000" stroke-width="2"/>
<circle cx="216.1" cy="973" r="3.9" fill="#00B9E3" stroke="#000" stroke-width="2"/>
<circle cx="457.2" cy="1047.2" r="3.9" fill="#00B9E3" stroke="#000" stroke-width="2"/>
<polyline points="119.6,1066.4 167.8,966.7 193.5,975.2 216.1,985.0 505.4,1042.8" fill="none" stroke="#F8766D" stroke-width="1.7" stroke-dasharray="5.5 4.4"/>
<polyline points="119.6,1062.0 167.8,1044.3 216.1,1051.7 457.2,1070.1" fill="none" stroke="#D39200" stroke-width="1.7" stroke-dasharray="5.5 4.4"/>
<polyline points="119.6,1030.5 167.8,908.1 192.0,918.5 216.1,924.0 366.4,965.9 457.2,983.2" fill="none" stroke="#93AA00" stroke-width="1.7" stroke-dasharray="5.5 4.4"/>
<polyline points="119.6,1029.4 167.8,999.0 192.0,1010.1 216.1,1010.8 457.3,1031.1" fill="none" stroke="#00BA38" stroke-width="1.7" stroke-dasharray="5.5 4.4"/>
<polyline points="119.6,1018.1 167.8,983.8 192.0,988.3 216.1,985.6 457.3,1011.8" fill="none" stroke="#00C19F" stroke-width="1.7" stroke-dasharray="5.5 4.4"/>
<polyline points="119.6,1096.8 167.8,952.6 192.0,964.5 216.1,973.0 457.2,1047.2" fill="none" stroke="#00B9E3" stroke-width="1.7" stroke-dasharray="5.5 4.4"/>
<line x1="78.1" y1="1029.2" x2="542.1" y2="1029.2" stroke="#000" stroke-width="3.3" stroke-dasharray="12.4 12.46"/>
<line x1="78.1" y1="974.3" x2="542.1" y2="974.3" stroke="#FF0000" stroke-width="3.3" stroke-dasharray="12.4 12.46"/>
<text x="582.7" y="928.2" font-size="14.3" fill="#000" text-anchor="start" >Simulation</text>
<rect x="583.1" y="938.7" width="10.2" height="9.2" fill="#619CFF"/>
<text x="601.5" y="947.6" font-size="11.44" fill="#1a1a1a" text-anchor="start" >5th percentile</text>
<rect x="583.1" y="951.0" width="10.2" height="9.2" fill="#FF61C3"/>
<text x="601.5" y="959.9" font-size="11.44" fill="#1a1a1a" text-anchor="start" >median</text>
<rect x="583.1" y="963.3" width="10.2" height="9.2" fill="#DB72FB"/>
<text x="601.5" y="972.2" font-size="11.44" fill="#1a1a1a" text-anchor="start" >95th percentile</text>
<text x="582.7" y="1014.6" font-size="14.3" fill="#000" text-anchor="start" >Patient</text>
<circle cx="586.2" cy="1029.0" r="4.2" fill="#F8766D" stroke="#000" stroke-width="2"/>
<text x="597.7" y="1033.1" font-size="11.44" fill="#1a1a1a" text-anchor="start" >1</text>
<circle cx="586.2" cy="1039.9" r="4.2" fill="#D39200" stroke="#000" stroke-width="2"/>
<text x="597.7" y="1044.0" font-size="11.44" fill="#1a1a1a" text-anchor="start" >2</text>
<circle cx="586.2" cy="1050.8" r="4.2" fill="#93AA00" stroke="#000" stroke-width="2"/>
<text x="597.7" y="1054.9" font-size="11.44" fill="#1a1a1a" text-anchor="start" >3</text>
<circle cx="586.2" cy="1061.7" r="4.2" fill="#00BA38" stroke="#000" stroke-width="2"/>
<text x="597.7" y="1065.8" font-size="11.44" fill="#1a1a1a" text-anchor="start" >4</text>
<circle cx="586.2" cy="1072.6" r="4.2" fill="#00C19F" stroke="#000" stroke-width="2"/>
<text x="597.7" y="1076.7" font-size="11.44" fill="#1a1a1a" text-anchor="start" >5</text>
<circle cx="586.2" cy="1083.5" r="4.2" fill="#00B9E3" stroke="#000" stroke-width="2"/>
<text x="597.7" y="1087.6" font-size="11.44" fill="#1a1a1a" text-anchor="start" >6</text>
</g>
</svg></body></html>
